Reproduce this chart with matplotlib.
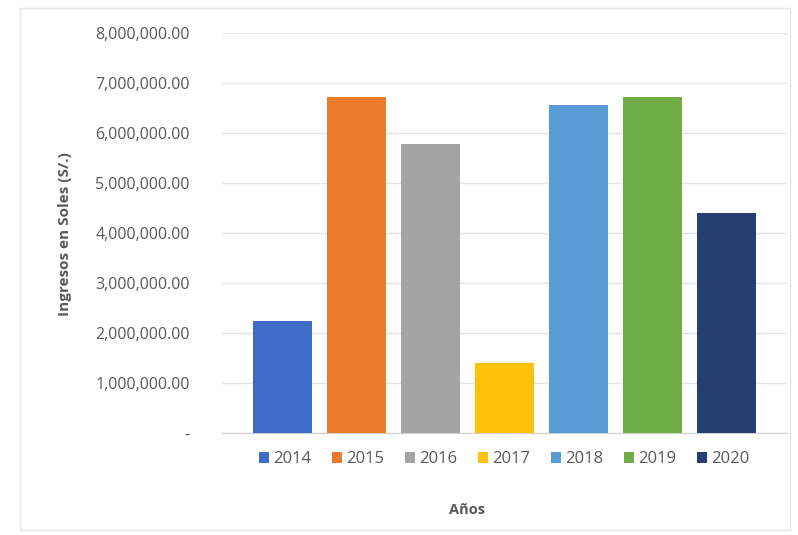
import matplotlib
matplotlib.use("Agg")
import matplotlib.pyplot as plt
from matplotlib.patches import Rectangle
from matplotlib.ticker import FuncFormatter

# Ingresos por año (S/.)
years = ["2014", "2015", "2016", "2017", "2018", "2019", "2020"]
ingresos = [2240000, 6730000, 5780000, 1410000, 6560000, 6720000, 4400000]
colors = ["#3f6cc6", "#ee7a2c", "#a3a3a3", "#fdc10a", "#5b9bd5", "#70ad47", "#263f72"]

plt.rcParams["font.family"] = ["Open Sans", "DejaVu Sans"]
txt = "#595959"

fig = plt.figure(figsize=(7.98, 5.35), dpi=100)
fig.patches.append(Rectangle((0.025, 0.01), 0.965, 0.975, transform=fig.transFigure,
                             fill=False, edgecolor="#e6e6e6", linewidth=1))
ax = fig.add_axes([0.278, 0.19, 0.708, 0.748])

xs = range(len(years))
for x, v, c, y in zip(xs, ingresos, colors, years):
    ax.bar(x, v, width=0.8, color=c, label=y, zorder=3)

ax.set_xlim(-0.82, len(years) - 1 + 0.82)
ax.set_ylim(0, 8000000)
ax.set_yticks(range(0, 8000001, 1000000))
ax.yaxis.set_major_formatter(FuncFormatter(lambda v, p: "-" if v == 0 else f"{v:,.2f}"))
ax.set_xticks([])
ax.grid(axis="y", color="#e3e3e3", linewidth=1, zorder=0)
for s in ["top", "right", "left"]:
    ax.spines[s].set_visible(False)
ax.spines["bottom"].set_color("#d0d0d0")
ax.tick_params(axis="y", length=0, pad=23, labelsize=11.5, labelcolor=txt)

fig.text(0.081, 0.563, "Ingresos en Soles (S/.)", rotation=90, ha="center", va="center",
         fontsize=11, fontweight="bold", color=txt)
fig.text(0.585, 0.047, "Años", ha="center", va="center", fontsize=10.5,
         fontweight="bold", color=txt)

ax.legend(loc="center", bbox_to_anchor=(0.5, -0.065), ncol=7, frameon=False,
          fontsize=12, labelcolor=txt, handlelength=0.6, handleheight=0.6,
          handletextpad=0.25, columnspacing=1.25)

fig.savefig("out.png", dpi=100)
